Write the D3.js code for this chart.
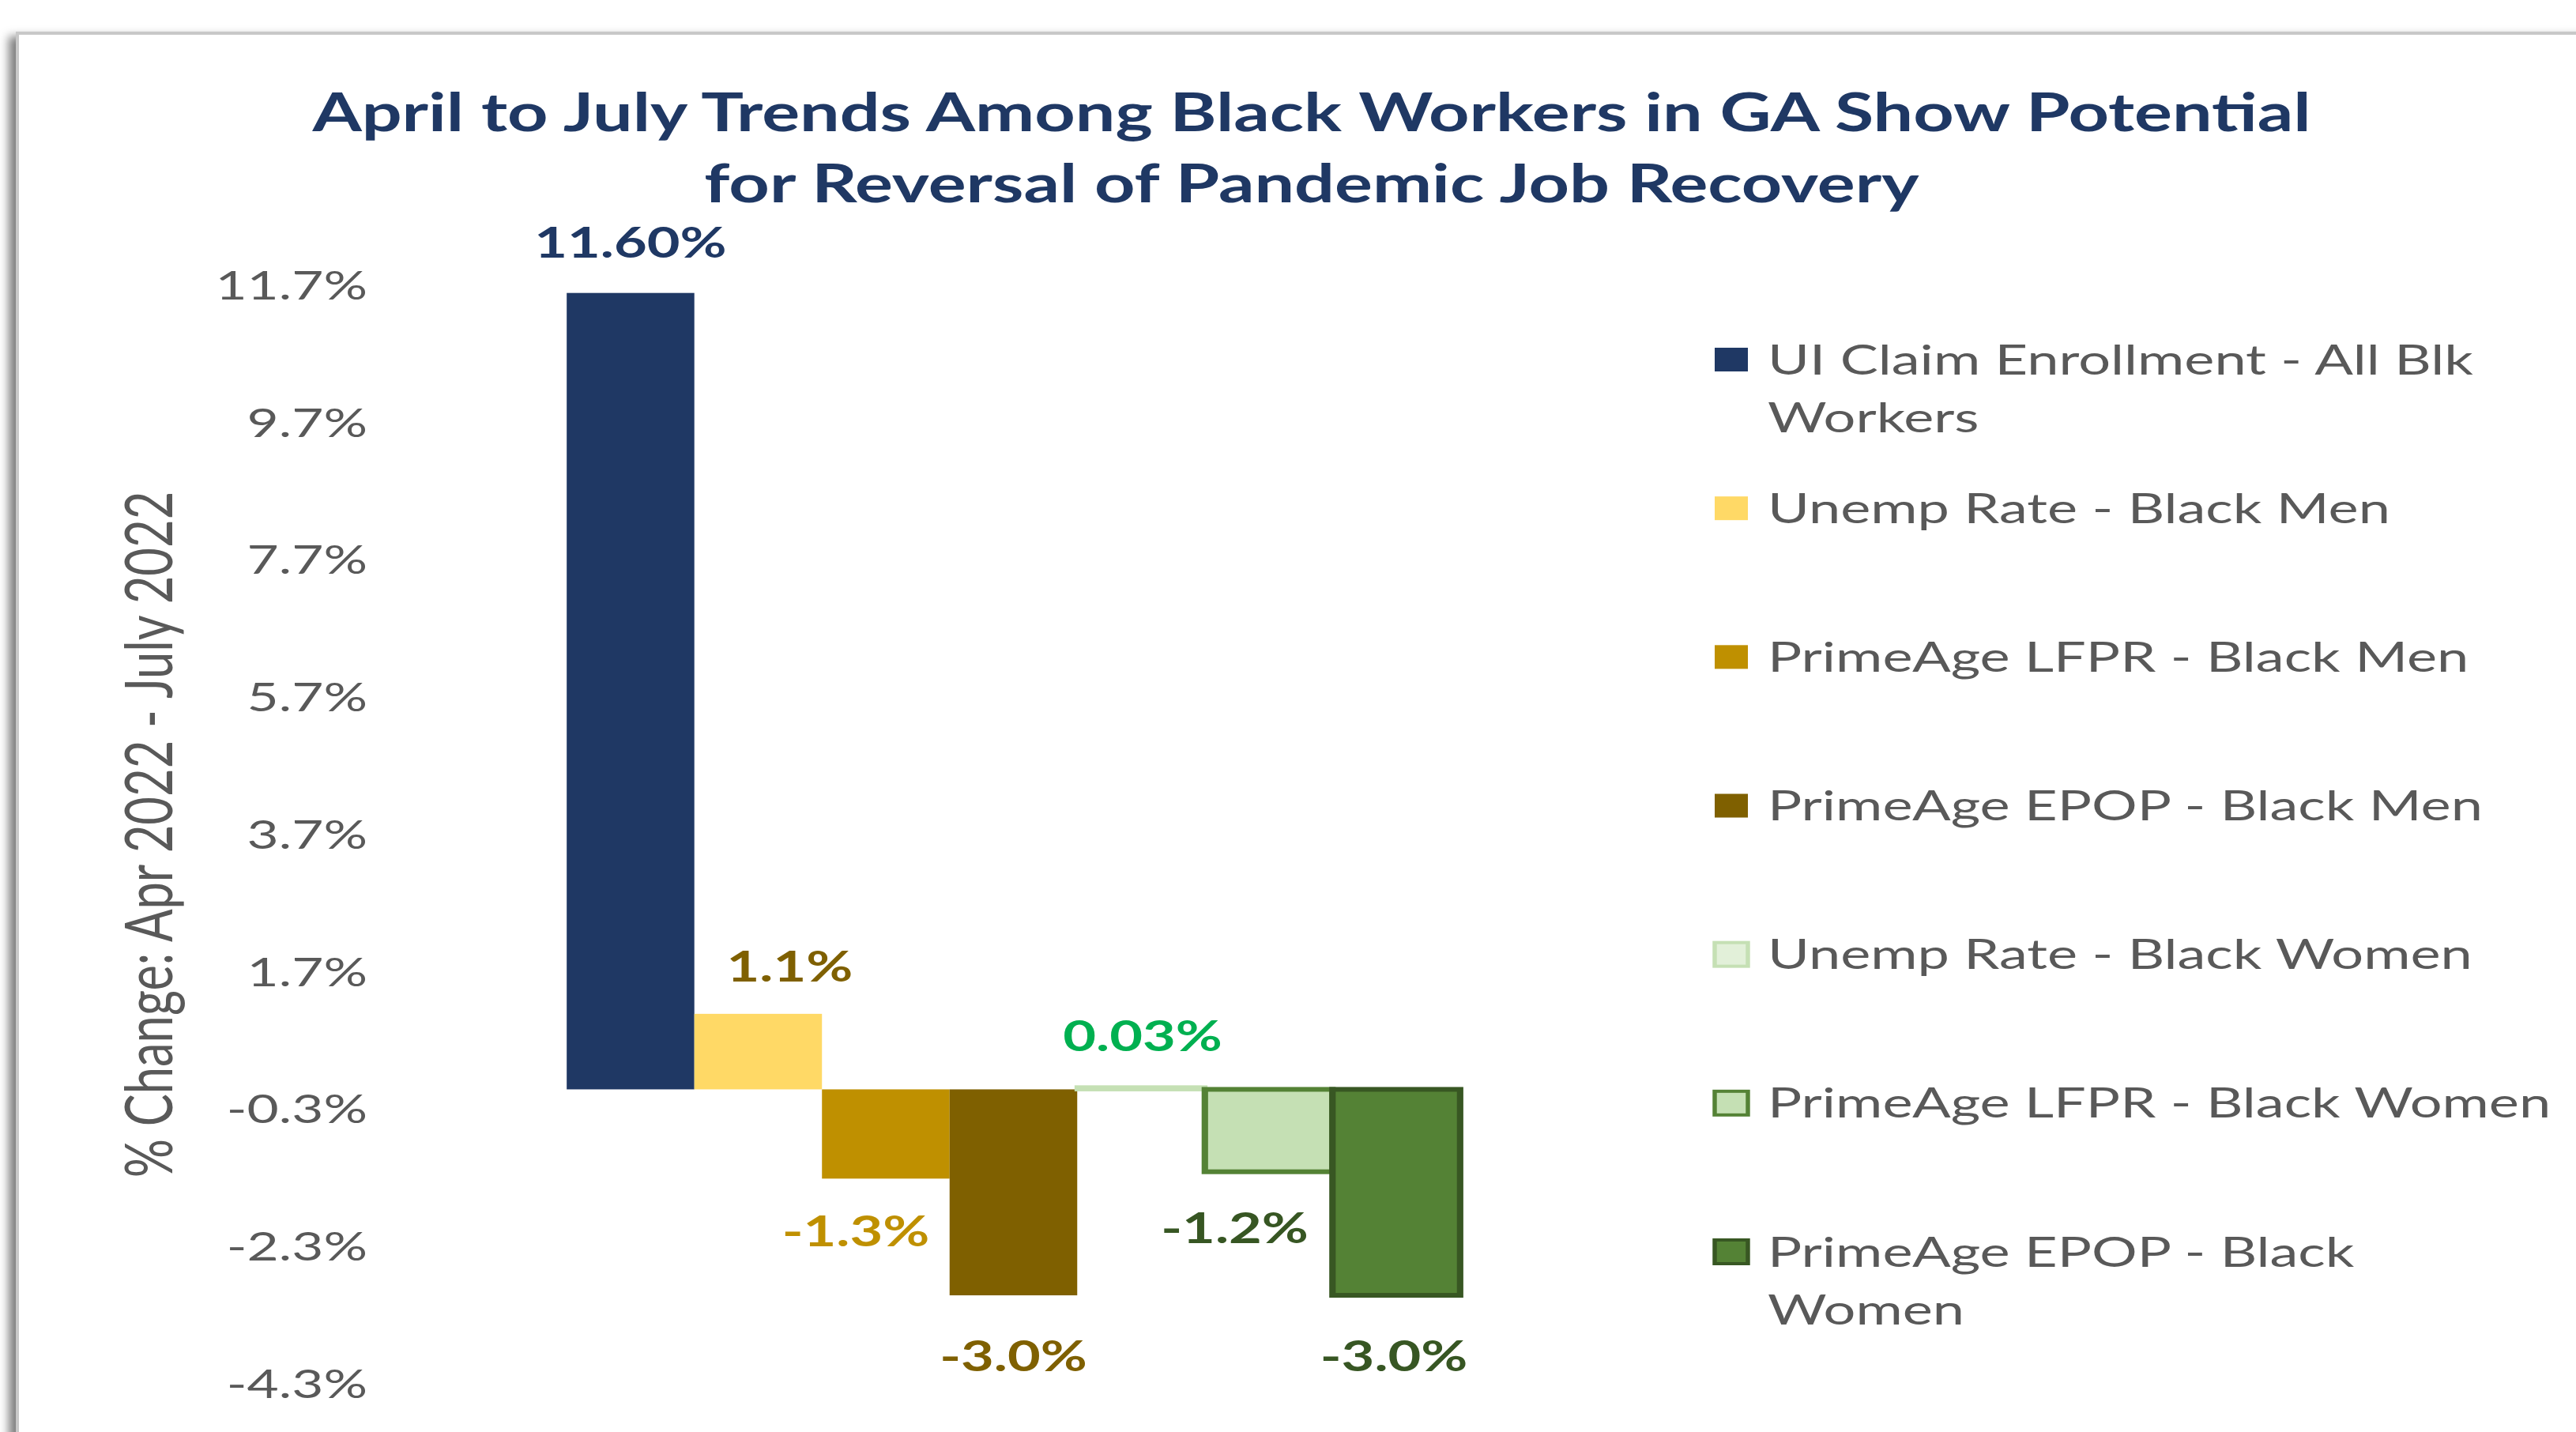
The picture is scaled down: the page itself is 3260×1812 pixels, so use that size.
<!DOCTYPE html>
<html>
<head>
<meta charset="utf-8">
<script src="https://cdn.jsdelivr.net/npm/d3@7"></script>
<style>
  html, body { margin: 0; padding: 0; background: #fff; }
  svg { display: block; }
  text { font-family: Lato, "Open Sans", sans-serif; }
</style>
</head>
<body>
<svg id="chart" width="3260" height="1812"></svg>
<script>
// chart data
var categories = ["Apr 2022 - July 2022"];
var seriesNames = [
  "UI Claim Enrollment - All Blk Workers",
  "Unemp Rate - Black Men",
  "PrimeAge LFPR - Black Men",
  "PrimeAge EPOP - Black Men",
  "Unemp Rate - Black Women",
  "PrimeAge LFPR - Black Women",
  "PrimeAge EPOP - Black Women"
];
var seriesValues = [11.6, 1.1, -1.3, -3.0, 0.03, -1.2, -3.0];
var valueLabels = ["11.60%", "1.1%", "-1.3%", "-3.0%", "0.03%", "-1.2%", "-3.0%"];
var tickValues = [-4.3, -2.3, -0.3, 1.7, 3.7, 5.7, 7.7, 9.7, 11.7];
var tickLabels = ["-4.3%", "-2.3%", "-0.3%", "1.7%", "3.7%", "5.7%", "7.7%", "9.7%", "11.7%"];
var legendLines = [
  ["UI Claim Enrollment - All Blk", "Workers"],
  ["Unemp Rate - Black Men"],
  ["PrimeAge LFPR - Black Men"],
  ["PrimeAge EPOP - Black Men"],
  ["Unemp Rate - Black Women"],
  ["PrimeAge LFPR - Black Women"],
  ["PrimeAge EPOP - Black", "Women"]
];
var titleLines = [
  "April to July Trends Among Black Workers in GA Show Potential",
  "for Reversal of Pandemic Job Recovery"
];
var yTitle = "% Change: Apr 2022 - July 2022";

// styles
var fills   = ["#1f3864", "#ffd966", "#bf9000", "#7f6000", "#e2f0d9", "#c5e0b4", "#548235"];
var strokes = [null, null, null, null, "#c5e0b4", "#548235", "#385723"];
var labelColors = ["#1f3864", "#7f6000", "#bf9000", "#7f6000", "#00b050", "#375623", "#375623"];
var labelNudgeX = [0, 40, -38, 0, 2, -43, -3];
var labelNudgeY = [0, 4, -3, 7, -1, 2, 7];

var SX = 1.36;   // the picture is stretched sideways
var fx = function(v) { return v / SX; };
var grey = "#595959";

var svg = d3.select("#chart");

var filter = svg.append("defs").append("filter")
    .attr("id", "shadow")
    .attr("x", "-5%").attr("y", "-5%")
    .attr("width", "110%").attr("height", "110%");
filter.append("feDropShadow")
    .attr("dx", -9).attr("dy", 6)
    .attr("stdDeviation", 6)
    .attr("flood-color", "#000")
    .attr("flood-opacity", 0.5);

svg.append("rect")
    .attr("x", 22).attr("y", 42)
    .attr("width", 3400).attr("height", 1900)
    .attr("fill", "#fff")
    .attr("stroke", "#c8c8c8")
    .attr("stroke-width", 4)
    .attr("filter", "url(#shadow)");

var g = svg.append("g").attr("transform", "scale(" + SX + ",1)");

// title
g.selectAll(".title")
  .data(titleLines)
  .enter().append("text")
    .attr("class", "title")
    .attr("x", fx(1660))
    .attr("y", function(d, i) { return 166 + i * 90; })
    .attr("text-anchor", "middle")
    .attr("font-weight", 700)
    .attr("font-size", 66)
    .attr("fill", "#1f3864")
    .text(function(d) { return d; });

var y = d3.scaleLinear().domain([-4.3, 11.7]).range([1752, 362]);

var x0 = d3.scaleBand().domain(categories).range([fx(497), fx(2068)]).padding(0.163);
var x1 = d3.scaleBand().domain(seriesNames).range([0, x0.bandwidth()]);

// y axis
var yAxis = g.append("g")
    .attr("class", "axis axis--y")
    .attr("transform", "translate(" + fx(465) + ",0)")
    .call(d3.axisLeft(y).tickValues(tickValues)
      .tickFormat(function(d, i) { return tickLabels[i]; })
      .tickSize(0).tickPadding(0));
yAxis.select(".domain").remove();
yAxis.selectAll("text")
    .attr("font-family", "Lato, sans-serif")
    .attr("font-size", 51)
    .attr("fill", grey);

g.append("text")
    .attr("transform", "translate(" + fx(218) + ",1056) rotate(-90)")
    .attr("text-anchor", "middle")
    .attr("font-size", 61.5)
    .attr("fill", grey)
    .text(yTitle);

// bars
var rows = seriesNames.map(function(name, i) {
  return { cat: categories[0], name: name, value: seriesValues[i], i: i };
});

var bars = g.append("g");
bars.selectAll(".bar")
  .data(rows)
  .enter().append("rect")
    .attr("class", "bar")
    .attr("x", function(d) { return x0(d.cat) + x1(d.name); })
    .attr("width", x1.bandwidth())
    .attr("y", function(d) { return y(Math.max(0, d.value)); })
    .attr("height", function(d) { return Math.abs(y(d.value) - y(0)); })
    .attr("fill", function(d) { return fills[d.i]; })
    .attr("stroke", function(d) { return strokes[d.i] || "none"; })
    .attr("stroke-width", function(d) { return d.i === 4 ? 5 : 6; });

bars.selectAll(".label")
  .data(rows)
  .enter().append("text")
    .attr("class", "label")
    .attr("x", function(d) { return x0(d.cat) + x1(d.name) + x1.bandwidth() / 2 + fx(labelNudgeX[d.i]); })
    .attr("y", function(d) {
      var base = d.value >= 0 ? y(d.value) - 63 : y(d.value) + 70;
      return base + labelNudgeY[d.i];
    })
    .attr("dy", "0.35em")
    .attr("text-anchor", "middle")
    .attr("font-weight", 700)
    .attr("font-size", 53)
    .attr("fill", function(d) { return labelColors[d.i]; })
    .text(function(d) { return valueLabels[d.i]; });

// legend
var ly = d3.scalePoint().domain(seriesNames).range([455, 1584]);

var legend = g.append("g").selectAll(".legend")
  .data(rows)
  .enter().append("g")
    .attr("class", "legend")
    .attr("transform", function(d) { return "translate(0," + ly(d.name) + ")"; });

legend.append("rect")
    .attr("x", fx(2170))
    .attr("y", -15)
    .attr("width", fx(42))
    .attr("height", 30)
    .attr("fill", function(d) { return fills[d.i]; })
    .attr("stroke", function(d) { return strokes[d.i] || "none"; })
    .attr("stroke-width", 4);

legend.selectAll("text")
  .data(function(d) { return legendLines[d.i]; })
  .enter().append("text")
    .attr("x", fx(2237))
    .attr("y", function(d, j) { return j * 73; })
    .attr("dy", "0.35em")
    .attr("font-size", 53)
    .attr("fill", grey)
    .text(function(d) { return d; });
</script>
</body>
</html>
